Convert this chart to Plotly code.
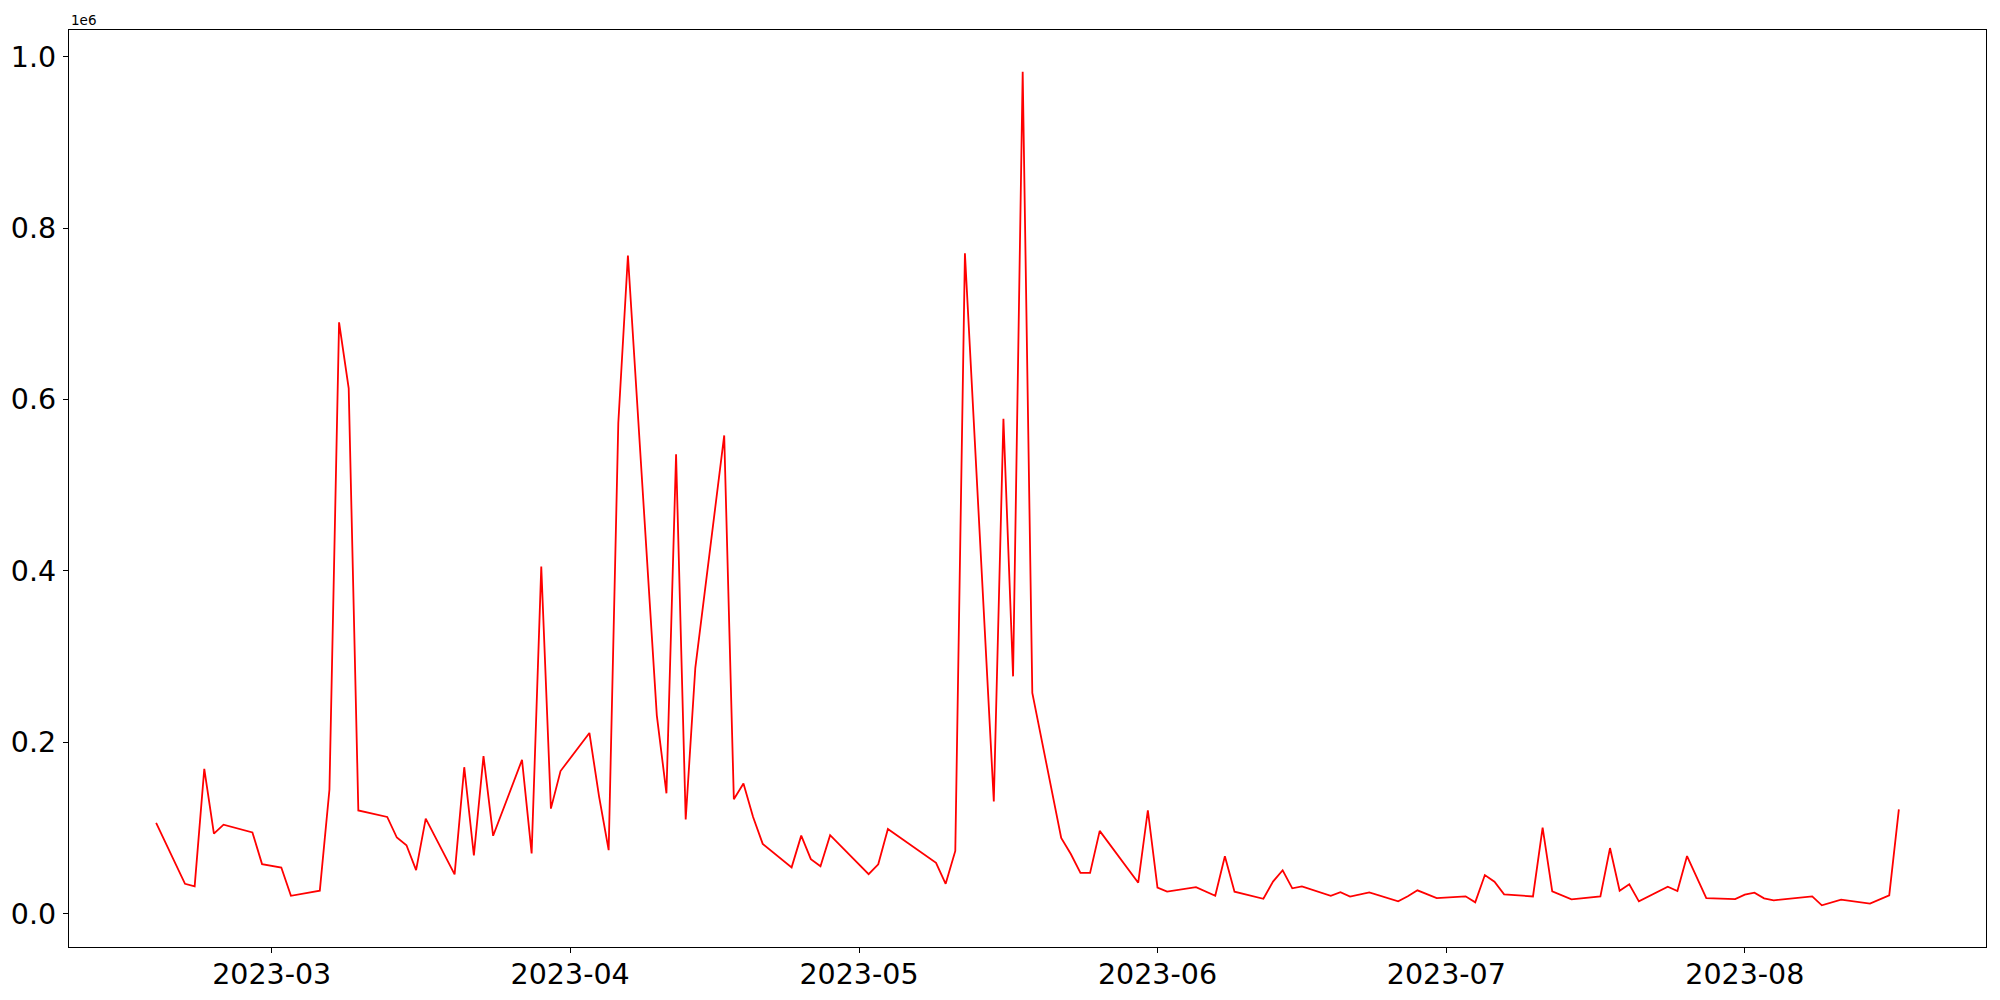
import pandas as pd
import plotly.graph_objects as go

dates = [
    "2023-02-17", "2023-02-20", "2023-02-21", "2023-02-22", "2023-02-23", "2023-02-24",
    "2023-02-27", "2023-02-28", "2023-03-02", "2023-03-03", "2023-03-06", "2023-03-07",
    "2023-03-08", "2023-03-09", "2023-03-10", "2023-03-13", "2023-03-14", "2023-03-15",
    "2023-03-16", "2023-03-17", "2023-03-20", "2023-03-21", "2023-03-22", "2023-03-23",
    "2023-03-24", "2023-03-27", "2023-03-28", "2023-03-29", "2023-03-30", "2023-03-31",
    "2023-04-03", "2023-04-04", "2023-04-05", "2023-04-06", "2023-04-07", "2023-04-10",
    "2023-04-11", "2023-04-12", "2023-04-13", "2023-04-14", "2023-04-17", "2023-04-18",
    "2023-04-19", "2023-04-20", "2023-04-21", "2023-04-24", "2023-04-25", "2023-04-26",
    "2023-04-27", "2023-04-28", "2023-05-02", "2023-05-03", "2023-05-04", "2023-05-08",
    "2023-05-09", "2023-05-10", "2023-05-11", "2023-05-12", "2023-05-15", "2023-05-16",
    "2023-05-17", "2023-05-18", "2023-05-19", "2023-05-22", "2023-05-23", "2023-05-24",
    "2023-05-25", "2023-05-26", "2023-05-30", "2023-05-31", "2023-06-01", "2023-06-02",
    "2023-06-05", "2023-06-07", "2023-06-08", "2023-06-09", "2023-06-12", "2023-06-13",
    "2023-06-14", "2023-06-15", "2023-06-16", "2023-06-19", "2023-06-20", "2023-06-21",
    "2023-06-23", "2023-06-26", "2023-06-27", "2023-06-28", "2023-06-30", "2023-07-03",
    "2023-07-04", "2023-07-05", "2023-07-06", "2023-07-07", "2023-07-10", "2023-07-11",
    "2023-07-12", "2023-07-14", "2023-07-17", "2023-07-18", "2023-07-19", "2023-07-20",
    "2023-07-21", "2023-07-24", "2023-07-25", "2023-07-26", "2023-07-28", "2023-07-31",
    "2023-08-01", "2023-08-02", "2023-08-03", "2023-08-04", "2023-08-08", "2023-08-09",
    "2023-08-11", "2023-08-14", "2023-08-16", "2023-08-17",
]

values = [
    106000, 35000, 32000, 169000, 93500, 104000,
    95000, 58000, 54000, 21000, 27000, 145000,
    690000, 613000, 120600, 113000, 89000, 80000,
    51000, 111000, 46000, 171000, 68000, 184000,
    91000, 179600, 70500, 405000, 122700, 166500,
    211000, 137000, 74300, 572500, 768000, 231500,
    140600, 536000, 110000, 287000, 558000, 133600,
    152000, 113000, 81600, 54200, 91200, 63800,
    55400, 91700, 46200, 57800, 99000, 66600,
    59500, 35000, 73300, 770500, 131000, 577400,
    277000, 982400, 257600, 88600, 69800, 47700,
    47700, 96700, 36300, 120800, 30500, 25800,
    31000, 21000, 67200, 25800, 17500, 37600,
    50800, 29700, 32000, 21000, 25300, 20000,
    25000, 14600, 20400, 27400, 18400, 20400,
    13400, 45200, 37400, 22700, 20200, 100400,
    26200, 16900, 20400, 76700, 27000, 34400,
    14500, 31600, 26600, 67400, 18400, 17200,
    22300, 24600, 18000, 15700, 20400, 9900,
    16500, 11800, 21600, 121800,
]

ytick_vals = [0, 200000, 400000, 600000, 800000, 1000000]
ytick_text = ["0.0", "0.2", "0.4", "0.6", "0.8", "1.0"]
offset_label = "1e6"

x = pd.to_datetime(dates)
span = x.max() - x.min()
x_range = [x.min() - 0.05 * span, x.max() + 0.05 * span]
vmin, vmax = min(values), max(values)
vspan = vmax - vmin
y_range = [vmin - 0.05 * vspan, vmax + 0.05 * vspan]

font_family = "DejaVu Sans"

fig = go.Figure()
fig.add_trace(go.Scatter(
    x=x, y=values, mode="lines",
    line=dict(color="#ff0000", width=1.8),
    showlegend=False,
))

axis_common = dict(
    showline=True, linecolor="black", linewidth=1.2, mirror=True,
    showgrid=False, zeroline=False, automargin=False,
    ticks="outside", ticklen=5, tickwidth=1.2, tickcolor="black",
    tickfont=dict(family=font_family, size=28.5, color="black"),
)

fig.update_xaxes(
    range=x_range, tick0="2023-03-01", dtick="M1", tickformat="%Y-%m",
    ticklabelstandoff=-3,
    **axis_common,
)
fig.update_yaxes(
    range=y_range, tickvals=ytick_vals, ticktext=ytick_text,
    ticklabelstandoff=1,
    **axis_common,
)

fig.add_annotation(
    text=offset_label, xref="paper", yref="paper", x=0, y=1,
    xanchor="left", yanchor="bottom", showarrow=False, yshift=0,
    font=dict(family=font_family, size=13.5, color="black"),
)

fig.update_layout(
    width=2000, height=1000,
    margin=dict(l=69, r=14, t=30, b=53, autoexpand=False),
    paper_bgcolor="white", plot_bgcolor="white",
    font=dict(family=font_family, color="black"),
)

fig.write_html(
    "out.html",
    config={"displayModeBar": False},
    post_script="document.body.style.margin='0';document.body.style.overflow='hidden';",
)
